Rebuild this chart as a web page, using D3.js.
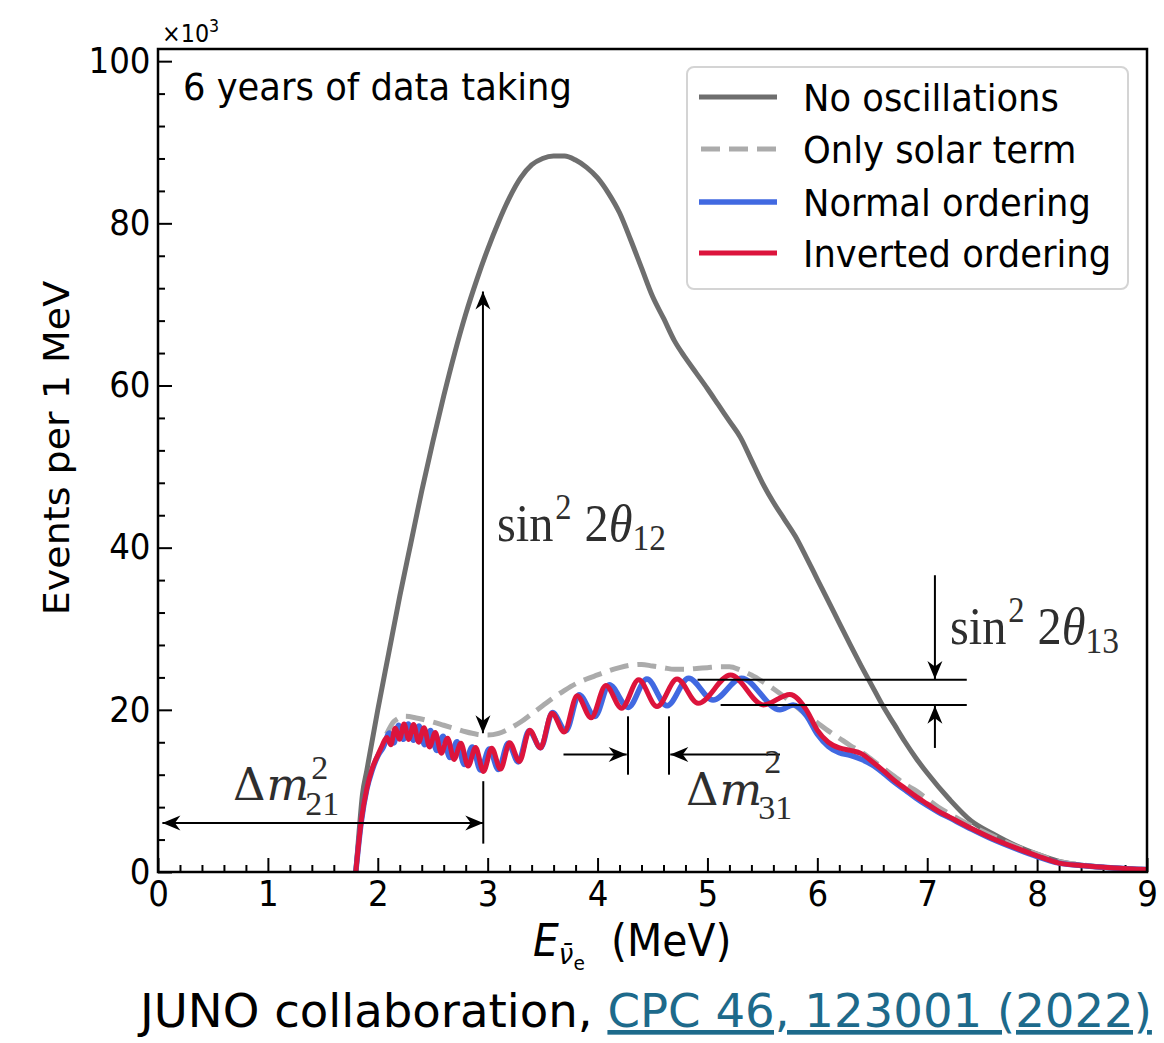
<!DOCTYPE html>
<html><head><meta charset="utf-8">
<script src="https://cdn.jsdelivr.net/npm/d3@7"></script>
<style>body{margin:0;background:#fff}svg{display:block}</style>
</head><body>
<script>
// ---------------- data ----------------
const xTicks = [0,1,2,3,4,5,6,7,8,9];
const yTicks = [0,20,40,60,80,100];
const seriesNames = ["No oscillations","Only solar term","Normal ordering","Inverted ordering"];

const noOscE = [1.8,1.83,1.86,1.9,2.0,2.1,2.2,2.3,2.4,2.5,2.6,2.7,2.8,2.9,3.0,3.1,3.2,3.3,3.4,3.5,3.6,3.7,3.8,3.9,4.0,4.1,4.2,4.3,4.4,4.5,4.6,4.7,4.8,4.9,5.0,5.1,5.2,5.3,5.4,5.5,5.6,5.7,5.8,5.9,6.0,6.1,6.2,6.3,6.4,6.5,6.6,6.7,6.8,6.9,7.0,7.2,7.4,7.6,7.8,8.0,8.2,8.5,9.0];
const noOscV = [0,5,9.5,12.5,20,27,34,40.5,47,53,58.7,64,68.8,73.0,76.8,80.2,83.2,85.6,87.2,88,88.3,88.3,87.8,86.9,85.6,83.7,81.3,78,74.5,71,68.3,65.5,63.4,61.5,59.6,57.6,55.6,53.6,50.8,48.0,45.6,43.5,41.4,38.8,36.1,33.4,30.7,28.0,25.4,22.9,20.4,18.2,16,14,12.2,9,6.3,4.7,3.3,2.2,1.3,0.7,0.3];

const solarE = [2.08,2.15,2.25,2.35,2.5,2.6,2.7,2.8,2.9,3.0,3.1,3.2,3.3,3.4,3.5,3.6,3.7,3.8,3.9,4.0,4.1,4.2,4.3,4.4,4.5,4.6,4.7,4.8,4.9,5.0,5.1,5.2,5.3,5.4,5.5,5.6,5.7,5.8,5.9,6.0,6.1,6.2,6.3,6.4,6.5,6.6,6.7,6.8,6.9,7.0,7.1,7.2,7.4,7.6,7.8,8.0,8.2,8.4,8.7,9.0];
const solarV = [17.0,18.6,19.2,19.0,18.5,18.1,17.7,17.3,17.0,16.9,17.1,17.7,18.5,19.5,20.5,21.5,22.4,23.2,23.8,24.3,24.8,25.2,25.5,25.6,25.4,25.2,25.0,25.0,25.1,25.2,25.3,25.3,24.9,24.3,23.5,22.6,21.6,20.5,19.4,18.4,17.4,16.5,15.6,14.8,13.8,12.8,11.8,10.8,10.0,9.0,8.0,7.2,5.7,4.4,3.2,2.2,1.3,0.9,0.5,0.3];

const normalE = [1.8,1.85,1.9,1.95,2.0,2.05,2.107,2.147,2.189,2.233,2.278,2.325,2.375,2.426,2.480,2.536,2.594,2.656,2.721,2.788,2.860,2.935,3.015,3.097,3.187,3.278,3.377,3.482,3.590,3.712,3.831,3.976,4.106,4.280,4.449,4.633,4.829,5.051,5.31,5.66,5.78,5.9,6.0,6.1,6.2,6.3,6.4,6.5,6.6,6.7,6.8,6.9,7.0,7.1,7.2,7.4,7.6,7.8,8.0,8.2,8.4,8.7,9.0];
const normalV = [0,6.2,10.2,12.6,14.3,15.4,17.15,15.92,18.1,16.36,18.25,16.24,18.0,15.7,17.46,14.98,16.74,14.12,16.05,13.25,15.43,12.58,15.18,12.64,15.87,13.57,17.43,15.32,19.66,17.41,21.87,19.18,23.1,20.3,23.8,20.5,23.9,21.2,23.9,20.0,20.6,19.3,17.0,15.5,14.7,14.4,13.9,13.2,12.2,11.1,10.1,9.1,8.2,7.4,6.7,5.3,4.0,2.9,1.9,1.1,0.8,0.5,0.3];

const invertedE = [1.8,1.85,1.9,1.95,2.0,2.04,2.082,2.119,2.158,2.198,2.239,2.282,2.326,2.372,2.421,2.471,2.523,2.578,2.635,2.694,2.756,2.822,2.890,2.962,3.037,3.117,3.200,3.289,3.382,3.480,3.585,3.696,3.814,3.941,4.075,4.219,4.374,4.541,4.724,4.915,5.21,5.51,5.75,5.9,6.0,6.1,6.2,6.3,6.4,6.5,6.6,6.7,6.8,6.9,7.0,7.1,7.2,7.4,7.6,7.8,8.0,8.2,8.4,8.7,9.0];
const invertedV = [0,6.4,10.3,12.8,14.4,15.6,16.6,15.7,17.74,16.37,18.24,16.35,18.18,16.0,17.8,15.43,17.19,14.66,16.51,13.88,15.87,13.06,15.34,12.4,15.27,12.69,15.94,13.64,17.48,15.3,19.59,17.27,21.74,19.01,23.0,20.2,23.7,20.4,23.8,20.8,24.3,20.6,21.9,20.0,17.5,16.0,15.3,15.0,14.6,13.6,12.5,11.3,10.3,9.3,8.4,7.5,6.8,5.4,4.1,3.0,2.0,1.1,0.8,0.5,0.3];

// ---------------- setup ----------------
const W = 1164, H = 1043, SX = 0.93;
const SANS = "DejaVu Sans", SERIF = "Liberation Serif", MATHC = "#2e2e2e";
const svg = d3.select("body").append("svg").attr("width", W).attr("height", H);
svg.append("rect").attr("width", W).attr("height", H).attr("fill", "#fff");

const x = d3.scaleLinear().domain([0, 9]).range([158, 1147]);
const y = d3.scaleLinear().domain([0, 101.5]).range([872, 49]);

const defs = svg.append("defs");
defs.append("clipPath").attr("id", "plotclip").append("rect")
  .attr("x", x(0)).attr("y", y(101.5)).attr("width", x(9) - x(0)).attr("height", y(0) - y(101.5));
defs.append("marker").attr("id", "ah").attr("viewBox", "-19 -8 20 16")
  .attr("refX", 0).attr("refY", 0).attr("markerWidth", 20).attr("markerHeight", 16)
  .attr("markerUnits", "userSpaceOnUse").attr("orient", "auto-start-reverse")
  .append("path").attr("d", "M0,0 L-18,-7.5 L-12.5,0 L-18,7.5 Z").attr("fill", "#000");

// ---------------- axes ----------------
const minorX = d3.range(0, 9.0001, 0.2).filter(v => Math.abs(v - Math.round(v)) > 1e-6);
const minorY = d3.range(0, 100.0001, 4).filter(v => v % 20 !== 0);

const gx = svg.append("g").attr("transform", `translate(0,${y(0)})`)
  .call(d3.axisBottom(x).tickValues(xTicks).tickFormat(d3.format("d")).tickSizeInner(-14).tickSizeOuter(0).tickPadding(9));
svg.append("g").attr("transform", `translate(0,${y(0)})`)
  .call(d3.axisBottom(x).tickValues(minorX).tickFormat("").tickSizeInner(-7).tickSizeOuter(0));
const gy = svg.append("g").attr("transform", `translate(${x(0)},0)`)
  .call(d3.axisLeft(y).tickValues(yTicks).tickFormat(d3.format("d")).tickSizeInner(-14).tickSizeOuter(0).tickPadding(8));
svg.append("g").attr("transform", `translate(${x(0)},0)`)
  .call(d3.axisLeft(y).tickValues(minorY).tickFormat("").tickSizeInner(-7).tickSizeOuter(0));
svg.selectAll(".domain").remove();
svg.selectAll(".tick line").attr("stroke", "#000").attr("stroke-width", 2);
[gx, gy].forEach(g => g.selectAll("text").attr("font-family", SANS).attr("font-size", 35).attr("fill", "#000")
  .attr("transform", `scale(${SX},1)`));

// ---------------- curves ----------------
const plot = svg.append("g").attr("clip-path", "url(#plotclip)");
const line = d3.line().x(d => x(d[0])).y(d => y(d[1])).curve(d3.curveMonotoneX);
const zip = (a, b) => a.map((v, i) => [v, b[i]]);

plot.append("path").attr("d", line(zip(noOscE, noOscV)))
  .attr("fill", "none").attr("stroke", "#6e6e6e").attr("stroke-width", 5).attr("stroke-linejoin", "round");
plot.append("path").attr("d", line(zip(solarE, solarV)))
  .attr("fill", "none").attr("stroke", "#ababab").attr("stroke-width", 5).attr("stroke-dasharray", "19,9");
plot.append("path").attr("d", line(zip(normalE, normalV)))
  .attr("fill", "none").attr("stroke", "#4169e1").attr("stroke-width", 5.5).attr("stroke-linejoin", "round");
plot.append("path").attr("d", line(zip(invertedE, invertedV)))
  .attr("fill", "none").attr("stroke", "#dc143c").attr("stroke-width", 5).attr("stroke-linejoin", "round");

// frame
svg.append("rect").attr("x", x(0)).attr("y", y(101.5)).attr("width", x(9) - x(0)).attr("height", y(0) - y(101.5))
  .attr("fill", "none").attr("stroke", "#000").attr("stroke-width", 2.5);

// ---------------- annotations ----------------
const ann = svg.append("g").attr("stroke", "#000").attr("stroke-width", 2).attr("fill", "none");
function seg(e1, v1, e2, v2, start, end) {
  const l = ann.append("line").attr("x1", x(e1)).attr("y1", y(v1)).attr("x2", x(e2)).attr("y2", y(v2));
  if (start) l.attr("marker-start", "url(#ah)");
  if (end) l.attr("marker-end", "url(#ah)");
}
seg(0.04, 6.05, 2.96, 6.05, true, true);
seg(2.96, 11.2, 2.96, 3.5);
seg(2.957, 71.6, 2.957, 17.1, true, true);
seg(4.277, 19.2, 4.277, 12.0);
seg(4.65, 19.2, 4.65, 12.0);
seg(3.69, 14.5, 4.265, 14.5, false, true);
seg(5.66, 14.5, 4.662, 14.5, false, true);
seg(4.91, 23.7, 7.36, 23.7);
seg(5.12, 20.6, 7.36, 20.6);
seg(7.07, 36.6, 7.07, 23.8, false, true);
seg(7.07, 15.3, 7.07, 20.5, false, true);

function stext(px, py, str, size, opts = {}) {
  const sx = opts.sx !== undefined ? opts.sx : SX;
  const g = svg.append("g").attr("transform", `translate(${px},${py}) scale(${sx},1)`);
  const t = g.append("text").attr("font-family", opts.family || SANS).attr("font-size", size)
    .attr("fill", opts.fill || "#000");
  if (opts.italic) t.attr("font-style", "italic");
  if (str !== null) t.text(str);
  return t;
}
function mtext(px, py, size, segs) {
  const t = stext(px, py, null, size, { family: SERIF, fill: MATHC });
  segs.forEach(s => {
    const ts = t.append("tspan").text(s.t);
    if (s.fs) ts.attr("font-size", s.fs);
    if (s.dy) ts.attr("dy", s.dy);
    if (s.dx) ts.attr("dx", s.dx);
    if (s.it) ts.attr("font-style", "italic");
  });
}
mtext(497, 541, 52, [{t: "sin"}, {t: "2", fs: 35, dy: -22, dx: 2}, {t: "2", dy: 22, dx: 14}, {t: "θ", it: true}, {t: "12", fs: 36, dy: 9}]);
mtext(950, 644, 52, [{t: "sin"}, {t: "2", fs: 35, dy: -22, dx: 2}, {t: "2", dy: 22, dx: 14}, {t: "θ", it: true}, {t: "13", fs: 36, dy: 9}]);

function dmLabel(px, py, supDy, subDy, sub) {
  const t = stext(px, py, null, 45, { family: "DejaVu Serif", fill: MATHC, sx: 1 });
  t.append("tspan").text("Δ");
  t.append("tspan").text("m").attr("font-style", "italic").attr("dx", 1);
  const w = t.node().getComputedTextLength();
  t.append("tspan").text("2").attr("font-family", SERIF).attr("font-size", 34).attr("dx", 2).attr("dy", supDy);
  t.append("tspan").text(sub).attr("font-family", SERIF).attr("font-size", 34)
    .attr("x", w - 3).attr("dy", subDy - supDy);
}
dmLabel(233, 800, -21, 15, "21");
dmLabel(686, 805, -32, 14, "31");

// ---------------- texts ----------------
stext(183, 100, "6 years of data taking", 38);
const mult = stext(162, 42, null, 24);
mult.append("tspan").text("×10");
mult.append("tspan").text("3").attr("font-size", 17).attr("dy", -10);

const xl = stext(533, 956, null, 44);
xl.append("tspan").text("E").attr("font-style", "italic");
xl.append("tspan").text("ν\u0304").attr("font-size", 28).attr("font-style", "italic").attr("dy", 8);
xl.append("tspan").text("e").attr("font-size", 20).attr("dy", 6);
xl.append("tspan").text("(MeV)").attr("font-size", 44).attr("x", (611 - 533) / SX).attr("dy", -14);

svg.append("g").attr("transform", `translate(69,448) scale(${SX},1) rotate(-90)`)
  .append("text").attr("text-anchor", "middle").attr("font-family", SANS).attr("font-size", 38)
  .attr("fill", "#000").text("Events per 1 MeV");

// ---------------- legend ----------------
svg.append("rect").attr("x", 687).attr("y", 67).attr("width", 441).attr("height", 222).attr("rx", 7)
  .attr("fill", "#fff").attr("fill-opacity", 0.85).attr("stroke", "#d4d4d4").attr("stroke-width", 2);
const legStyles = [
  {c: "#6e6e6e", w: 5, dash: null},
  {c: "#ababab", w: 5, dash: "19,9"},
  {c: "#4169e1", w: 5.5, dash: null},
  {c: "#dc143c", w: 5, dash: null}
];
const legY = [97, 149, 202, 253];
seriesNames.forEach((name, i) => {
  const st = legStyles[i];
  const l = svg.append("line").attr("x1", 699).attr("x2", 777).attr("y1", legY[i]).attr("y2", legY[i])
    .attr("stroke", st.c).attr("stroke-width", st.w);
  if (st.dash) l.attr("stroke-dasharray", st.dash).attr("stroke-dashoffset", -2);
  stext(803, legY[i] + 13.5, name, 38);
});

// ---------------- caption ----------------
const cap = svg.append("text").attr("x", 140).attr("y", 1027).attr("font-family", SANS)
  .attr("font-size", 46.6).attr("fill", "#000");
cap.append("tspan").text("JUNO collaboration, ");
cap.append("tspan").attr("fill", "#1d6a8b").attr("text-decoration", "underline").text("CPC 46, 123001 (2022)");
</script>
</body></html>
